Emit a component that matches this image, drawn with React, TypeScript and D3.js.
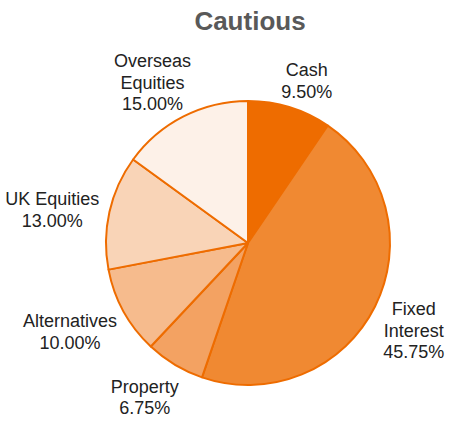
import React from 'react';
import * as d3 from 'd3';

const categories = ['Cash', 'Fixed Interest', 'Property', 'Alternatives', 'UK Equities', 'Overseas Equities'];
const values = [9.5, 45.75, 6.75, 10.0, 13.0, 15.0];
// label lines as they wrap in the picture
const labelLines = [['Cash'], ['Fixed', 'Interest'], ['Property'], ['Alternatives'], ['UK Equities'], ['Overseas', 'Equities']];
const colors = ['#ee6c00', '#f08932', '#f3a262', '#f6bb8d', '#f9d4b7', '#fdf1e8'];

const width = 452;
const height = 421;
const cx = 248;
const cy = 243;
const radius = 142;
const fontSize = 18;
const lineH = 21.5;
const font = `${fontSize}px "Liberation Sans", Arial, sans-serif`;

const measure = (() => {
  const ctx = document.createElement('canvas').getContext('2d');
  return (s: string) => {
    if (!ctx) return s.length * fontSize * 0.55;
    ctx.font = font;
    return ctx.measureText(s).width;
  };
})();

const App = () => {
  const pie = d3.pie<number>().sort(null).value((d) => d);
  const arcs = pie(values);
  const arc = d3.arc<d3.PieArcDatum<number>>().innerRadius(0).outerRadius(radius);
  const fmt = d3.format('.2f');

  return (
    <svg width={width} height={height} style={{ position: 'absolute', left: 0, top: 0, background: '#fff' }}>
      <text x={250} y={30} textAnchor="middle" fontFamily='"Liberation Sans", Arial, sans-serif'
        fontWeight="bold" fontSize={26} fill="#595959">Cautious</text>
      <g transform={`translate(${cx},${cy})`}>
        {arcs.map((a, i) => (
          <path key={categories[i]} d={arc(a) || ''} fill={colors[i]} stroke="#ee6c00" strokeWidth={2} strokeLinejoin="round" />
        ))}
      </g>
      {arcs.map((a, i) => {
        const lines = [...labelLines[i], fmt(values[i]) + '%'];
        const w = d3.max(lines, (l) => measure(l)) || 0;
        const h = lines.length * lineH;
        const mid = (a.startAngle + a.endAngle) / 2;
        const s = Math.sin(mid);
        const c = -Math.cos(mid);
        const g = 11;
        // push the label box outward so that it clears the rim
        const fx = Math.sign(s) * Math.sqrt(Math.abs(s));
        const px = cx + (radius + g) * s + (w / 2) * fx;
        const py = cy + (radius + g) * c + (h / 2) * c + 5;
        const top = py - h / 2;
        return (
          <text key={categories[i]} textAnchor="middle" fontFamily='"Liberation Sans", Arial, sans-serif'
            fontSize={fontSize} fill="#222">
            {lines.map((l, j) => (
              <tspan key={j} x={px} y={top + j * lineH + lineH * 0.78}>{l}</tspan>
            ))}
          </text>
        );
      })}
    </svg>
  );
};

export default App;
